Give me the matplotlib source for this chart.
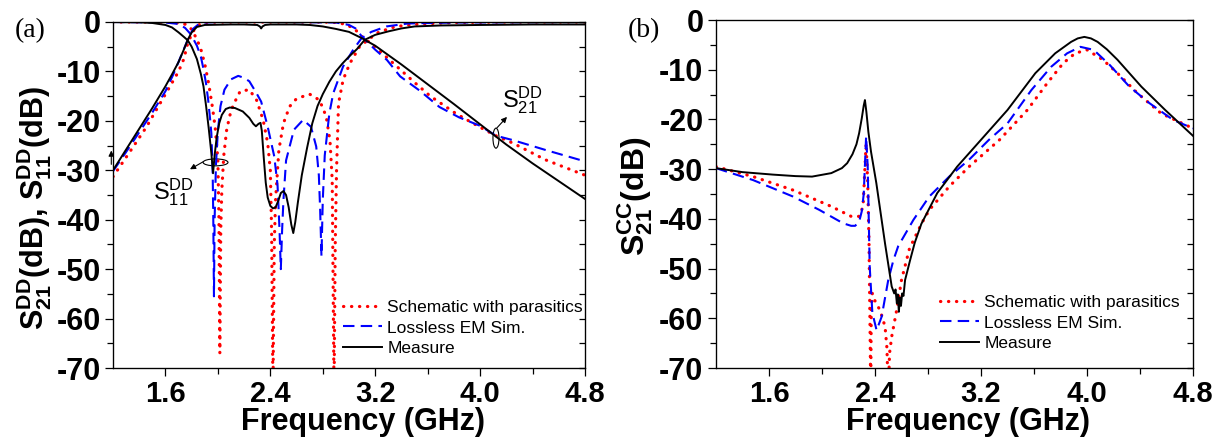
import matplotlib
matplotlib.use("Agg")
import matplotlib.pyplot as plt
from matplotlib.patches import Ellipse
from matplotlib.ticker import MultipleLocator, FixedLocator

plt.rcParams['font.family'] = ['Liberation Sans', 'DejaVu Sans']
plt.rcParams['mathtext.fontset'] = 'custom'
plt.rcParams['mathtext.rm'] = 'Liberation Sans'
plt.rcParams['mathtext.bf'] = 'Liberation Sans:bold'
plt.rcParams['mathtext.it'] = 'Liberation Sans:italic'
plt.rcParams['axes.unicode_minus'] = False

# ---------------- data: panel (a) ----------------
f_sch_s21 = [1.2, 1.33, 1.456, 1.545, 1.62, 1.7, 1.74, 1.77, 1.81, 1.86, 1.9, 2.0, 2.5, 2.8, 2.9,
             2.96, 3.0, 3.05, 3.1, 3.15, 3.21, 3.34, 3.49, 3.62, 3.82, 4.0, 4.12, 4.25, 4.5, 4.8]
db_sch_s21 = [-31.3, -26.2, -21.2, -17.1, -13.7, -10.0, -7.5, -4.3, -1.9, -0.5, -0.1, 0, 0, 0, -0.1,
              -0.4, -0.8, -1.6, -3.0, -4.0, -5.3, -8.4, -12.0, -15.0, -18.6, -21.3, -23.0, -24.5, -27.9, -31.0]

f_sch_s11 = [1.2, 1.5, 1.6, 1.7, 1.76, 1.80, 1.84, 1.87, 1.90, 1.93, 1.96, 1.98, 2.0, 2.008, 2.015,
             2.022, 2.03, 2.045, 2.066, 2.09, 2.117, 2.17, 2.24, 2.295, 2.345, 2.38, 2.40, 2.41, 2.42,
             2.43, 2.44, 2.465, 2.50, 2.547, 2.60, 2.70, 2.775, 2.826, 2.855, 2.872, 2.886, 2.895,
             2.905, 2.92, 2.955, 3.006, 3.08, 3.16, 3.23, 3.36, 3.54, 3.8, 4.2, 4.8]
db_sch_s11 = [0, 0, -0.05, -0.2, -0.5, -1.5, -3.5, -5.5, -8.5, -12.5, -17.5, -21.5, -27.9, -40, -67,
              -42, -34, -27, -22, -19, -16.8, -14.0, -13.7, -15.8, -19.8, -24.5, -30, -42.7, -75,
              -45, -36, -25.9, -20.5, -17.1, -15.5, -14.6, -15.8, -19.1, -24, -32, -75, -45,
              -30, -16.5, -11.7, -8.4, -5.0, -3.3, -2.0, -0.9, -0.4, -0.1, 0, 0]

f_em_s21 = [1.2, 1.3, 1.4, 1.5, 1.6, 1.66, 1.72, 1.77, 1.81, 1.86, 1.9, 2.0, 2.5, 2.9, 3.0, 3.05,
            3.1, 3.15, 3.2, 3.29, 3.39, 3.54, 3.69, 3.84, 4.0, 4.12, 4.25, 4.5, 4.8]
db_em_s21 = [-30.2, -26.3, -22.3, -18.3, -14.0, -10.6, -6.8, -3.6, -1.4, -0.3, -0.1, 0, 0, -0.1, -0.6, -1.3,
             -3.0, -4.3, -5.6, -7.7, -11.0, -13.9, -17.2, -19.3, -21.0, -23.0, -23.9, -25.9, -28.2]

f_em_s11 = [1.2, 1.6, 1.7, 1.75, 1.787, 1.81, 1.84, 1.87, 1.89, 1.91, 1.926, 1.94, 1.95, 1.96, 1.965,
            1.97, 1.975, 1.985, 2.0, 2.02, 2.05, 2.1, 2.155, 2.20, 2.24, 2.29, 2.33, 2.38, 2.43, 2.455,
            2.47, 2.48, 2.49, 2.50, 2.52, 2.58, 2.65, 2.71, 2.75, 2.77, 2.78, 2.79, 2.80, 2.815, 2.85,
            2.88, 2.955, 3.03, 3.095, 3.17, 3.285, 3.45, 3.8, 4.8]
db_em_s11 = [0, -0.1, -0.4, -1.2, -2.3, -3.3, -4.8, -7.0, -9.5, -12.5, -15.8, -19.5, -22.5, -30, -40,
             -55.5, -40, -29, -22, -17, -13.7, -11.6, -10.9, -11.3, -12.0, -14.2, -16.1, -21.2, -27.2, -33,
             -42, -50, -42, -36, -28, -21.8, -19.8, -21.2, -25.2, -31, -38, -47.4, -36, -27, -18.5,
             -14.4, -9.0, -5.7, -3.3, -2.0, -0.9, -0.3, -0.1, 0]

f_meas_s21 = [1.2, 1.3, 1.4, 1.5, 1.6, 1.65, 1.7, 1.74, 1.77, 1.8, 1.84, 1.9, 2.0, 2.1, 2.2, 2.3,
              2.32, 2.33, 2.34, 2.36, 2.4, 2.6, 2.7, 2.8, 2.9, 3.0, 3.1, 3.2, 3.4, 3.6, 3.8, 4.0,
              4.2, 4.4, 4.6, 4.8]
db_meas_s21 = [-30, -25.8, -21.6, -17.4, -13.0, -10.6, -8.1, -5.6, -3.6, -2.1, -1.0, -0.6, -0.55, -0.5, -0.5, -0.6,
               -0.9, -1.3, -0.9, -0.6, -0.5, -0.5, -0.6, -0.9, -1.4, -2.0, -3.3, -4.8, -8.6, -12.6, -16.6, -20.7,
               -24.8, -28.6, -32.2, -35.8]

f_meas_s11 = [1.2, 1.4, 1.5, 1.6, 1.65, 1.7, 1.74, 1.77, 1.8, 1.84, 1.87, 1.89, 1.91, 1.93, 1.95,
              1.963, 1.975, 1.99, 2.01, 2.03, 2.06, 2.09, 2.13, 2.19, 2.24, 2.27, 2.29, 2.31, 2.325,
              2.335, 2.35, 2.365, 2.38, 2.4, 2.42, 2.44, 2.46, 2.48, 2.5, 2.52, 2.54, 2.56, 2.575,
              2.59, 2.61, 2.64, 2.68, 2.72, 2.76, 2.8, 2.85, 2.9, 2.95, 3.0, 3.06, 3.12, 3.2, 3.3,
              3.4, 3.5, 3.7, 4.0, 4.4, 4.8]
db_meas_s11 = [0, -0.05, -0.2, -0.6, -1.1, -2.1, -3.0, -3.7, -5.0, -7.5, -10.5, -13, -17, -21.5, -26.5,
               -30.6, -27, -23.5, -20.5, -18.8, -17.6, -17.3, -17.4, -18.1, -19.4, -20.6, -21.1, -20.6, -20.4,
               -22, -27.5, -32.5, -35.5, -37.2, -37.7, -37.5, -36.2, -34.6, -34.2, -35, -37.5, -41, -42.7,
               -40.5, -36.5, -31, -25.5, -20.5, -17.0, -14.6, -12.1, -10.0, -8.4, -7.0, -5.5, -3.6, -2.6, -1.9,
               -1.3, -0.9, -0.7, -0.6, -0.5, -0.5]

# ---------------- data: panel (b) ----------------
f_sch_cc = [1.2, 1.48, 1.78, 2.07, 2.22, 2.28, 2.31, 2.333, 2.345, 2.355, 2.368, 2.372, 2.38, 2.40,
            2.44, 2.476, 2.49, 2.50, 2.51, 2.526, 2.564, 2.60, 2.66, 2.75, 2.81, 2.96, 3.11, 3.34,
            3.55, 3.70, 3.82, 3.91, 4.0, 4.12, 4.23, 4.38, 4.56, 4.8]
db_sch_cc = [-29.5, -31.5, -34.2, -37.5, -39.5, -39.5, -37.5, -24.8, -32.8, -45, -75, -58, -55, -56.5,
             -58.5, -61.7, -66, -75, -67, -63.7, -58.3, -52.3, -46.0, -41.0, -38.2, -33.5, -29.5, -24.1,
             -18.1, -12.7, -8.7, -6.7, -6.0, -8.0, -10.7, -14.7, -18.8, -21.8]

f_em_cc = [1.2, 1.48, 1.78, 1.98, 2.16, 2.22, 2.25, 2.28, 2.30, 2.315, 2.333, 2.345, 2.36, 2.38,
           2.412, 2.45, 2.50, 2.539, 2.575, 2.69, 2.81, 2.96, 3.11, 3.26, 3.40, 3.58, 3.73, 3.85,
           3.95, 4.05, 4.17, 4.32, 4.47, 4.65, 4.8]
db_em_cc = [-29.8, -32.2, -35.5, -38.2, -40.9, -41.4, -41.4, -40.6, -38.5, -35, -23.4, -29.5, -49.6, -58.9,
            -62.4, -59.7, -52.3, -48.3, -45.5, -40.2, -35.5, -31.5, -28.1, -24.1, -20.8, -14.1, -9.4, -6.7,
            -5.4, -6.0, -9.0, -13.4, -16.7, -20.1, -21.8]

f_meas_cc = [1.2, 1.4, 1.63, 1.8, 1.925, 2.07, 2.15, 2.19, 2.23, 2.26, 2.28, 2.30, 2.315, 2.324,
             2.335, 2.35, 2.37, 2.41, 2.476, 2.526, 2.545, 2.555, 2.565, 2.572, 2.58, 2.588, 2.596,
             2.605, 2.615, 2.627, 2.665, 2.70, 2.75, 2.87, 3.02, 3.2, 3.4, 3.61, 3.76, 3.88, 3.93,
             3.98, 4.03, 4.08, 4.15, 4.23, 4.41, 4.59, 4.8]
db_meas_cc = [-29.8, -30.6, -31.1, -31.4, -31.5, -30.8, -29.8, -28.8, -27.0, -25.0, -22.8, -19.8, -17.2, -16.1,
              -18.5, -22.5, -26.5, -32.8, -45.0, -53.6, -55.0, -54.2, -57.0, -55.2, -58.7, -55.8, -57.5,
              -55.0, -55.5, -52.3, -48.3, -44.8, -41.0, -34.8, -29.5, -24.1, -18.1, -10.7, -6.7, -4.4, -3.7,
              -3.4, -3.7, -4.4, -5.9, -8.0, -13.4, -18.1, -23.3]

legend_labels = ['Schematic with parasitics', 'Lossless EM Sim.', 'Measure']
x_major = [1.6, 2.4, 3.2, 4.0, 4.8]
x_minor = [2.0, 2.8, 3.6, 4.4]

# ---------------- styles ----------------
RED = dict(color='#ff0000', lw=2.3, linestyle=(0, (0.1, 2.4)), dash_capstyle='round')
BLUE = dict(color='#0000ff', lw=1.5, linestyle=(0, (5.5, 3.0)))
BLACK = dict(color='black', lw=1.4, linestyle='-')

fig = plt.figure(figsize=(12.3, 4.43), dpi=100)
axA = fig.add_axes([113 / 1230, 1 - 368 / 443, 472 / 1230, 346 / 443])
axB = fig.add_axes([716 / 1230, 1 - 368 / 443, 477 / 1230, 348 / 443])


def style_axes(ax):
    ax.set_xlim(1.2, 4.8)
    ax.set_ylim(-70, 0)
    ax.xaxis.set_major_locator(FixedLocator(x_major))
    ax.xaxis.set_minor_locator(FixedLocator(x_minor))
    ax.yaxis.set_major_locator(MultipleLocator(10))
    ax.yaxis.set_minor_locator(MultipleLocator(5))
    ax.set_xticklabels(['1.6', '2.4', '3.2', '4.0', '4.8'])
    ax.tick_params(which='major', direction='out', length=6, width=0.9, pad=3)
    ax.tick_params(axis='x', which='major', labelsize=21)
    ax.tick_params(axis='y', which='major', labelsize=22)
    ax.tick_params(which='minor', direction='out', length=4, width=0.9)
    for lab in ax.get_xticklabels() + ax.get_yticklabels():
        lab.set_fontweight('bold')
    for sp in ax.spines.values():
        sp.set_linewidth(0.9)
    tw = ax.twinx()
    tw.set_ylim(-70, 0)
    tw.yaxis.set_major_locator(MultipleLocator(5))
    tw.tick_params(axis='y', which='major', direction='in', length=4, width=0.9,
                   labelright=False)
    return tw


# ---------- panel (a) ----------
axA.plot(f_sch_s21, db_sch_s21, **RED, label=legend_labels[0])
axA.plot(f_sch_s11, db_sch_s11, **RED)
axA.plot(f_em_s21, db_em_s21, **BLUE, label=legend_labels[1])
axA.plot(f_em_s11, db_em_s11, **BLUE)
axA.plot(f_meas_s21, db_meas_s21, **BLACK, label=legend_labels[2])
axA.plot(f_meas_s11, db_meas_s11, **BLACK)
style_axes(axA)

axA.set_xlabel('Frequency (GHz)', fontsize=22, fontweight='bold')
axA.xaxis.set_label_coords(0.529, -0.179)
axA.xaxis.label.set_va('baseline')
axA.set_ylabel(r'$\mathbf{S}_{\mathbf{21}}^{\mathbf{DD}}$(dB), $\mathbf{S}_{\mathbf{11}}^{\mathbf{DD}}$(dB)',
               fontsize=22, fontweight='bold')
axA.yaxis.set_label_coords(-0.148, 0.462)
axA.yaxis.label.set_va('baseline')

# annotations
axA.add_patch(Ellipse((1.982, -28.4), 0.19, 1.4, fill=False, lw=0.8, color='black'))
axA.add_patch(Ellipse((4.121, -23.5), 0.046, 4.05, fill=False, lw=0.8, color='black'))
arrow = dict(arrowstyle='-|>', lw=0.8, color='black', mutation_scale=8, shrinkA=0, shrinkB=0)
axA.annotate('', xy=(1.787, -29.8), xytext=(1.886, -28.3), arrowprops=arrow)
axA.annotate('', xy=(4.205, -19.2), xytext=(4.129, -21.4), arrowprops=arrow)
axA.annotate('', xy=(1.187, -26.0), xytext=(1.187, -28.8), arrowprops=arrow,
             annotation_clip=False)
axA.text(1.505, -34.4, r'$\mathrm{S}_{\mathrm{11}}^{\mathrm{DD}}$', fontsize=17,
         ha='left', va='center')
axA.text(4.167, -15.8, r'$\mathrm{S}_{\mathrm{21}}^{\mathrm{DD}}$', fontsize=17,
         ha='left', va='center')

legA = axA.legend(loc='upper left', bbox_to_anchor=(343 / 1230, 1 - 300 / 443),
                  bbox_transform=fig.transFigure, frameon=False, fontsize=12.5,
                  handlelength=2.25, handletextpad=0.3, labelspacing=0.3,
                  borderpad=0, borderaxespad=0)

# ---------- panel (b) ----------
axB.plot(f_sch_cc, db_sch_cc, **RED, label=legend_labels[0])
axB.plot(f_em_cc, db_em_cc, **BLUE, label=legend_labels[1])
axB.plot(f_meas_cc, db_meas_cc, **BLACK, label=legend_labels[2])
style_axes(axB)

axB.set_xlabel('Frequency (GHz)', fontsize=22, fontweight='bold')
axB.xaxis.set_label_coords(0.528, -0.178)
axB.xaxis.label.set_va('baseline')
axB.set_ylabel(r'$\mathbf{S}_{\mathbf{21}}^{\mathbf{CC}}$(dB)', fontsize=23, fontweight='bold')
axB.yaxis.set_label_coords(-0.150, 0.493)
axB.yaxis.label.set_va('baseline')

legB = axB.legend(loc='upper left', bbox_to_anchor=(940 / 1230, 1 - 295 / 443),
                  bbox_transform=fig.transFigure, frameon=False, fontsize=12.5,
                  handlelength=2.25, handletextpad=0.3, labelspacing=0.3,
                  borderpad=0, borderaxespad=0)

fig.text(15 / 1230, 1 - 31 / 443, '(a)', fontsize=20, family='Liberation Serif',
         ha='left', va='center')
fig.text(628 / 1230, 1 - 31 / 443, '(b)', fontsize=20, family='Liberation Serif',
         ha='left', va='center')

fig.savefig('out.png', dpi=100)
